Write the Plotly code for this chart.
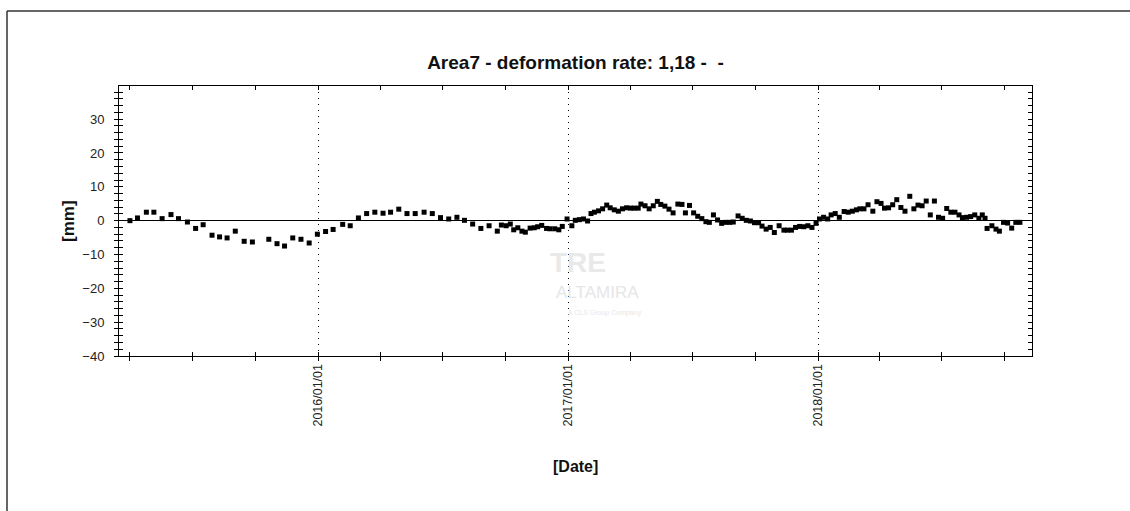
import plotly.graph_objects as go

# ---------------- data ----------------
dates_2015 = ["2015-04-01", "2015-04-12", "2015-04-25", "2015-05-06", "2015-05-18", "2015-05-31",
              "2015-06-11", "2015-06-24", "2015-07-06", "2015-07-17", "2015-07-30", "2015-08-10",
              "2015-08-21", "2015-09-02", "2015-09-15", "2015-09-27", "2015-10-21", "2015-11-02",
              "2015-11-13", "2015-11-25", "2015-12-07", "2015-12-19", "2015-12-31"]
mm_2015 = [0.0, 0.8, 2.5, 2.5, 0.6, 1.8, 0.6, -0.4, -2.3, -1.2, -4.3, -4.8,
           -5.1, -3.1, -6.1, -6.3, -5.5, -6.8, -7.5, -5.1, -5.5, -6.6, -4.0]

dates_2016 = ["2016-01-12", "2016-01-23", "2016-02-06", "2016-02-17", "2016-02-29", "2016-03-12",
              "2016-03-24", "2016-04-05", "2016-04-16", "2016-04-28", "2016-05-10", "2016-05-22",
              "2016-06-04", "2016-06-16", "2016-06-28", "2016-07-10", "2016-07-22", "2016-08-02",
              "2016-08-14", "2016-08-26", "2016-09-07", "2016-09-19", "2016-09-25", "2016-10-02",
              "2016-10-08", "2016-10-13", "2016-10-19", "2016-10-25", "2016-10-30", "2016-11-06",
              "2016-11-12", "2016-11-17", "2016-11-23", "2016-11-30", "2016-12-05", "2016-12-12",
              "2016-12-18", "2016-12-23", "2016-12-30"]
mm_2016 = [-3.2, -2.6, -1.1, -1.5, 0.8, 2.1, 2.5, 2.2, 2.5, 3.4, 2.1, 2.1,
           2.5, 2.1, 0.9, 0.5, 1.0, 0.1, -1.0, -2.3, -1.5, -3.1, -1.3, -1.5,
           -1.0, -2.7, -2.1, -3.1, -3.4, -2.2, -2.1, -1.8, -1.4, -2.3, -2.4, -2.4,
           -2.7, -1.7, 0.5]

dates_2017 = ["2017-01-06", "2017-01-11", "2017-01-17", "2017-01-23", "2017-01-29", "2017-02-03",
              "2017-02-08", "2017-02-14", "2017-02-20", "2017-02-26", "2017-03-03", "2017-03-09",
              "2017-03-15", "2017-03-21", "2017-03-27", "2017-04-02", "2017-04-07", "2017-04-13",
              "2017-04-17", "2017-04-23", "2017-04-29", "2017-05-05", "2017-05-11", "2017-05-16",
              "2017-05-22", "2017-05-28", "2017-06-03", "2017-06-10", "2017-06-16", "2017-06-21",
              "2017-06-27", "2017-07-03", "2017-07-09", "2017-07-15", "2017-07-21", "2017-07-26",
              "2017-08-01", "2017-08-07", "2017-08-13", "2017-08-19", "2017-08-25", "2017-08-30",
              "2017-09-06", "2017-09-12", "2017-09-18", "2017-09-24", "2017-09-30", "2017-10-06",
              "2017-10-11", "2017-10-17", "2017-10-23", "2017-10-29", "2017-11-05", "2017-11-12",
              "2017-11-17", "2017-11-23", "2017-11-29", "2017-12-05", "2017-12-11", "2017-12-17",
              "2017-12-23", "2017-12-29"]
mm_2017 = [-1.5, 0.1, 0.3, 0.5, -0.1, 2.1, 2.5, 2.9, 3.5, 4.6, 3.8, 3.2,
           2.8, 3.5, 3.8, 3.7, 3.7, 3.7, 4.9, 4.4, 3.5, 4.4, 5.7, 4.8,
           4.3, 3.4, 2.3, 4.9, 4.8, 2.3, 4.5, 2.3, 1.3, 0.6, -0.3, -0.5,
           1.7, 0.2, -0.8, -0.5, -0.5, -0.4, 1.4, 0.7, 0.1, -0.1, -0.6, -0.6,
           -1.6, -2.5, -2.0, -3.5, -1.5, -2.8, -2.8, -2.8, -2.0, -1.7, -1.8, -1.5,
           -2.0, -0.8]

dates_2018 = ["2018-01-03", "2018-01-09", "2018-01-15", "2018-01-20", "2018-01-26", "2018-02-01",
              "2018-02-08", "2018-02-14", "2018-02-20", "2018-02-26", "2018-03-03", "2018-03-09",
              "2018-03-15", "2018-03-22", "2018-03-28", "2018-04-03", "2018-04-08", "2018-04-14",
              "2018-04-20", "2018-04-26", "2018-05-02", "2018-05-08", "2018-05-15", "2018-05-21",
              "2018-05-27", "2018-06-02", "2018-06-08", "2018-06-14", "2018-06-20", "2018-06-26",
              "2018-07-02", "2018-07-08", "2018-07-14", "2018-07-20", "2018-07-26", "2018-07-31",
              "2018-08-06", "2018-08-12", "2018-08-18", "2018-08-24", "2018-08-29", "2018-09-02",
              "2018-09-05", "2018-09-12", "2018-09-18", "2018-09-23", "2018-09-29", "2018-10-05",
              "2018-10-11", "2018-10-17", "2018-10-23"]
mm_2018 = [0.5, 1.0, 0.5, 1.7, 2.1, 1.0, 2.7, 2.5, 2.8, 3.2, 3.5, 3.5,
           4.7, 2.8, 5.6, 5.1, 3.7, 3.8, 4.7, 6.2, 3.9, 2.8, 7.2, 3.5,
           4.6, 4.4, 5.8, 1.7, 5.8, 1.0, 0.7, 3.6, 2.5, 2.5, 1.7, 0.9,
           1.0, 1.2, 1.7, 0.7, 1.7, 0.7, -2.3, -1.5, -2.5, -3.1, -0.5, -0.7,
           -2.2, -0.5, -0.5]

dates = dates_2015 + dates_2016 + dates_2017 + dates_2018
mm = mm_2015 + mm_2016 + mm_2017 + mm_2018

title_text = "Area7 - deformation rate: 1,18 -  -"
x_title = "[Date]"
y_title = "[mm]"
x_range = ["2015-03-16", "2018-11-09 16:00"]
y_range = [-40, 39.8]

# ---------------- layout geometry ----------------
W, H = 1130, 511
L, R, T, B = 119, 1032, 86, 356


def px(xp):
    return (xp - L) / (R - L)


def py(yp):
    return (B - yp) / (B - T)


FONT = "Liberation Sans, Arial, sans-serif"
TICK_COLOR = "#222222"

fig = go.Figure()
fig.add_trace(go.Scatter(
    x=dates, y=mm, mode="markers",
    marker=dict(symbol="square", size=5, color="black", line=dict(width=0)),
    showlegend=False, hovertemplate="%{x|%Y/%m/%d}: %{y} mm<extra></extra>"))
# invisible copy to anchor the overlay axes (outer halves of crossing ticks)
fig.add_trace(go.Scatter(
    x=dates, y=mm, mode="markers", marker=dict(opacity=0, size=1),
    xaxis="x2", yaxis="y2", hoverinfo="skip", showlegend=False))

tick_common = dict(ticklen=4, tickwidth=1, tickcolor="black")

fig.update_layout(
    width=W, height=H,
    margin=dict(l=L, r=W - R, t=T, b=H - B),
    paper_bgcolor="white", plot_bgcolor="white",
    font=dict(family=FONT, size=12, color=TICK_COLOR),
    title=dict(text="<b>" + title_text + "</b>", x=0.5, xref="paper", xanchor="center",
               y=1 - 62 / H, yref="container", yanchor="middle",
               font=dict(family=FONT, size=19, color="#111111")),
    xaxis=dict(
        type="date", range=x_range,
        showline=True, linecolor="black", linewidth=1, mirror="ticks",
        ticks="inside", **tick_common,
        tickmode="linear", tick0="2016-01-01", dtick="M12",
        tickformat="%Y/%m/%d", tickangle=-90,
        tickfont=dict(family=FONT, size=12.5, color=TICK_COLOR),
        ticklabelstandoff=2,
        showgrid=True, gridcolor="black", gridwidth=1, griddash="1px,5px",
        zeroline=False,
        minor=dict(tick0="2015-01-01", dtick="M3", ticks="inside", ticklen=4,
                   tickcolor="black", tickwidth=1, showgrid=False),
    ),
    xaxis2=dict(
        type="date", overlaying="x", matches="x", side="bottom", anchor="y",
        showline=False, showticklabels=False, showgrid=False, zeroline=False,
        ticks="outside", **tick_common,
        tickmode="linear", tick0="2016-01-01", dtick="M12",
        minor=dict(tick0="2015-01-01", dtick="M3", ticks="outside", ticklen=4,
                   tickcolor="black", tickwidth=1, showgrid=False),
    ),
    yaxis=dict(
        range=y_range,
        showline=True, linecolor="black", linewidth=1, mirror="ticks",
        ticks="inside", **tick_common,
        tickmode="linear", tick0=0, dtick=10,
        tickfont=dict(family=FONT, size=13, color=TICK_COLOR),
        ticklabelstandoff=11,
        showgrid=False,
        zeroline=True, zerolinecolor="black", zerolinewidth=1,
        minor=dict(tick0=0, dtick=2, ticks="inside", ticklen=4, tickcolor="black",
                   tickwidth=1, showgrid=False),
    ),
    yaxis2=dict(
        range=y_range, overlaying="y", matches="y", side="left", anchor="x",
        showline=False, showticklabels=False, showgrid=False, zeroline=False,
        ticks="outside", **tick_common,
        tickmode="linear", tick0=0, dtick=10,
        minor=dict(tick0=0, dtick=2, ticks="outside", ticklen=4, tickcolor="black",
                   tickwidth=1, showgrid=False),
    ),
)

centered = dict(xref="paper", yref="paper", xanchor="center", yanchor="middle", showarrow=False)

# axis titles
fig.add_annotation(text="<b>" + y_title + "</b>", x=px(68), y=0.5, textangle=-90,
                   font=dict(family=FONT, size=17, color="#111111"), **centered)
fig.add_annotation(text="<b>" + x_title + "</b>", x=0.5, y=py(466),
                   font=dict(family=FONT, size=16, color="#111111"), **centered)

# faint watermark
fig.add_annotation(text="<b>TRE</b>", x=px(578), y=py(262),
                   font=dict(family=FONT, size=28, color="#e9e9e9"), **centered)
fig.add_annotation(text="ALTAMIRA", x=px(597), y=py(292),
                   font=dict(family=FONT, size=17, color="#e6e6e6"), **centered)
fig.add_annotation(text="A CLS Group Company", x=px(605), y=py(313),
                   font=dict(family=FONT, size=7, color="#e8e8e8"), **centered)

# outer frame of the image (top and left edges)
frame = dict(color="#333333", width=1.5)
fig.add_shape(type="line", xref="paper", yref="paper", x0=px(7), x1=px(1130), y0=py(11), y1=py(11), line=frame)
fig.add_shape(type="line", xref="paper", yref="paper", x0=px(7), x1=px(7), y0=py(11), y1=py(511), line=frame)

fig.write_html("out.html", config={"displayModeBar": False},
               post_script="document.body.style.margin='0px';")
